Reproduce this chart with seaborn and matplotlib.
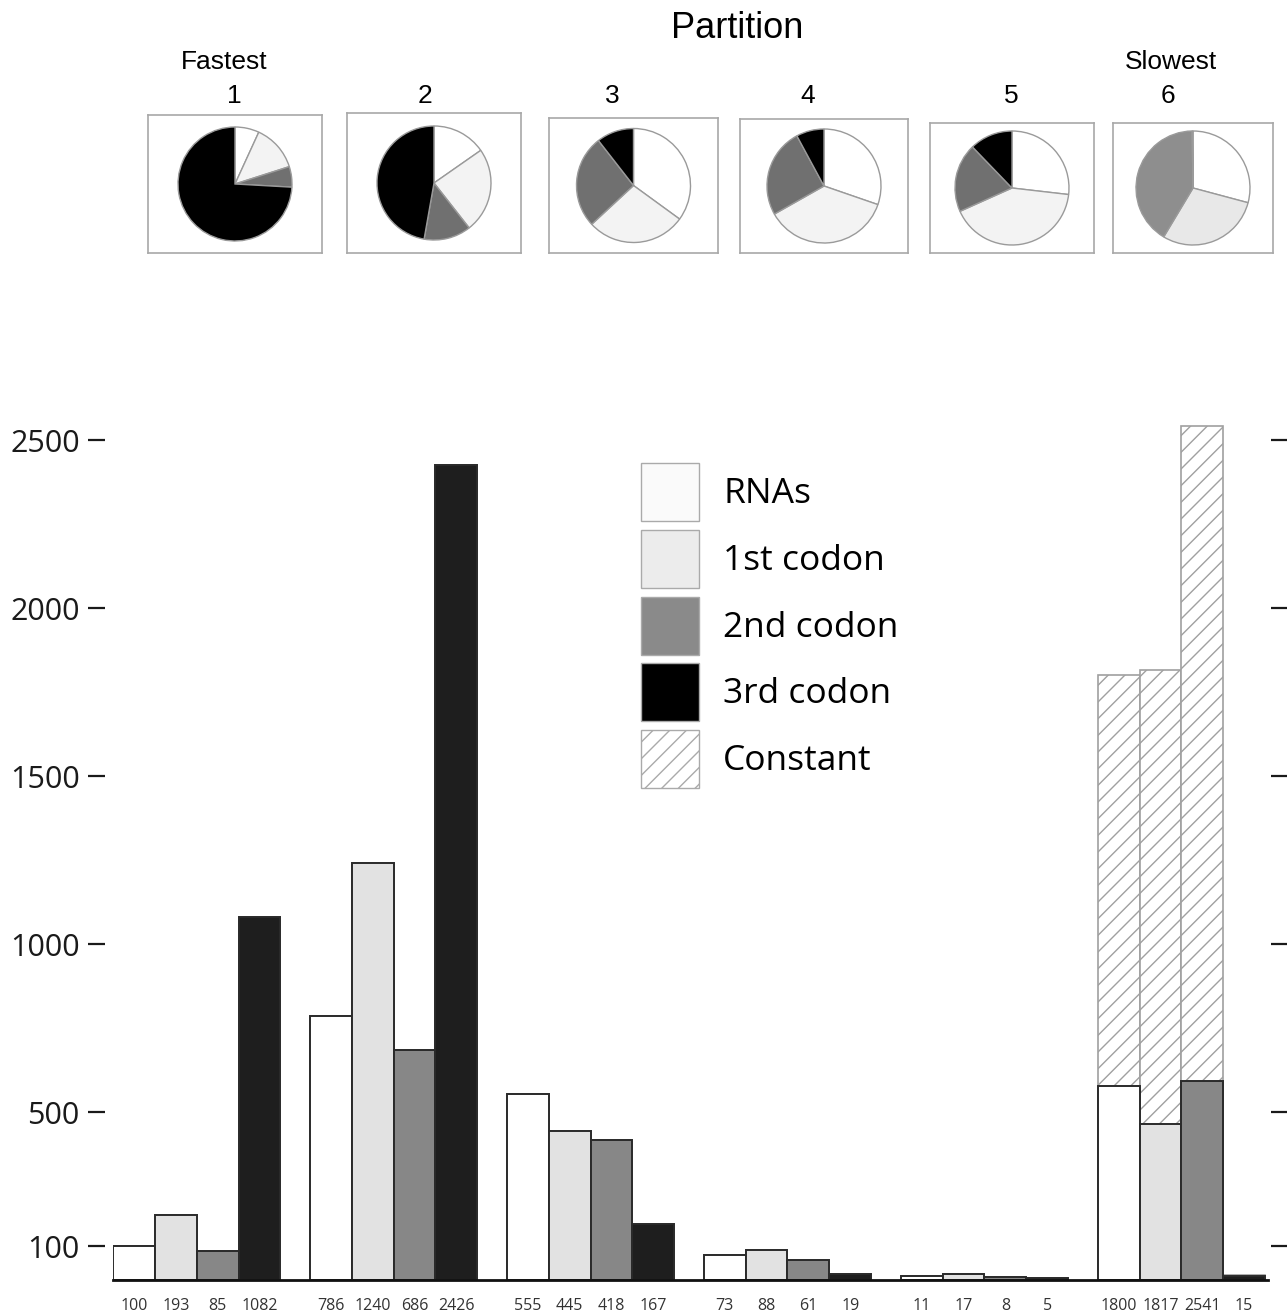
import numpy as np
import pandas as pd
import matplotlib
matplotlib.use('Agg')
import matplotlib.pyplot as plt
from matplotlib.patches import Patch
import seaborn as sns

# data
partitions = ['1', '2', '3', '4', '5', '6']
site_types = ['RNAs', '1st codon', '2nd codon', '3rd codon']
# sites per partition (numbers printed under the bars)
rnas = [100, 786, 555, 73, 11, 1800]
codon1 = [193, 1240, 445, 88, 17, 1817]
codon2 = [85, 686, 418, 61, 8, 2541]
codon3 = [1082, 2426, 167, 19, 5, 15]
# variable part of the slowest partition (rest is constant)
variable6 = [578, 464, 592, 12]

W, H = 1287, 1312

def fig_rect(x0, y0, x1, y1):
    return [x0 / W, 1 - y1 / H, (x1 - x0) / W, (y1 - y0) / H]

sns.set_style('white')
plt.rcParams['font.family'] = ['Open Sans', 'DejaVu Sans']
plt.rcParams['hatch.linewidth'] = 1.0
plt.rcParams['text.color'] = 'black'

# long table
rows = []
for i, p in enumerate(partitions):
    tot = [rnas[i], codon1[i], codon2[i], codon3[i]]
    for j, t in enumerate(site_types):
        var = variable6[j] if p == '6' else tot[j]
        rows.append({'partition': p, 'type': t, 'total': tot[j], 'variable': var})
df = pd.DataFrame(rows)

bar_colors = {'RNAs': '#ffffff', '1st codon': '#e2e2e2',
              '2nd codon': '#878787', '3rd codon': '#1e1e1e'}
pie_colors = ['#ffffff', '#f3f3f3', '#707070', '#000000']
pie_colors_slow = ['#ffffff', '#e8e8e8', '#8e8e8e', '#000000']

fig = plt.figure(figsize=(W / 100, H / 100), dpi=100)
ax = fig.add_axes(fig_rect(113, 420, 1268, 1280))

# constant + variable (hatched) first
sns.barplot(data=df, x='partition', y='total', hue='type', hue_order=site_types,
            palette={t: 'white' for t in site_types}, width=0.85, gap=0,
            edgecolor='#a0a0a0', linewidth=1.2, legend=False, ax=ax)
n_first = len(ax.patches)
for p in ax.patches:
    p.set_hatch('//')
    p.set_edgecolor('#a0a0a0')

# variable sites on top
sns.barplot(data=df, x='partition', y='variable', hue='type', hue_order=site_types,
            palette=bar_colors, width=0.85, gap=0,
            edgecolor='#2a2a2a', linewidth=1.4, legend=False, ax=ax)

bars = [p for p in ax.patches[n_first:] if p.get_height() > 0]
centers = sorted(p.get_x() + p.get_width() / 2 for p in bars)
labels = [str(v) for i in range(len(partitions))
          for v in (rnas[i], codon1[i], codon2[i], codon3[i])]
ax.set_xticks(centers[:len(labels)])
ax.set_xticklabels(labels)

ax.set_xlim(-0.425, 5.44)
ax.set_ylim(0, 2560)
ax.set_yticks([100, 500, 1000, 1500, 2000, 2500])
ax.set_xlabel('')
ax.set_ylabel('')

ax.spines['top'].set_visible(False)
ax.spines['left'].set_position(('outward', 6))
ax.spines['left'].set_visible(False)
ax.spines['right'].set_position(('outward', 2))
ax.spines['right'].set_visible(False)
ax.spines['bottom'].set_linewidth(2)
ax.spines['bottom'].set_color('#111111')

ax.tick_params(axis='y', left=True, right=True, labelright=False,
               length=12.5, width=1.6, direction='out', pad=5.5,
               labelsize=22, color='#1a1a1a', labelcolor='#1a1a1a')
ax.tick_params(axis='x', length=0, pad=13, labelsize=11.5, labelcolor='#333333')

# legend
handles = [Patch(facecolor='#fafafa', edgecolor='#aaaaaa', label='RNAs'),
           Patch(facecolor='#ececec', edgecolor='#aaaaaa', label='1st codon'),
           Patch(facecolor='#8a8a8a', edgecolor='#aaaaaa', label='2nd codon'),
           Patch(facecolor='#000000', edgecolor='#aaaaaa', label='3rd codon'),
           Patch(facecolor='white', edgecolor='#aaaaaa', hatch='//', label='Constant')]
ax.legend(handles=handles, loc='upper left', bbox_to_anchor=(0.457, 0.95),
          frameon=False, fontsize=25.5, handlelength=1.64, handleheight=2.14,
          labelspacing=0.25, handletextpad=0.68, borderpad=0, borderaxespad=0)

# pies per partition
boxes = [(148, 115, 322, 253), (347, 113, 521, 253), (549, 118, 718, 253),
         (740, 119, 908, 253), (930, 123, 1094, 253), (1113, 123, 1273, 253)]
for i, (x0, y0, x1, y1) in enumerate(boxes):
    pax = fig.add_axes(fig_rect(x0, y0, x1, y1))
    vals = [rnas[i], codon1[i], codon2[i], codon3[i]]
    cols = pie_colors_slow if partitions[i] == '6' else pie_colors
    pax.pie(vals, colors=cols, startangle=90, counterclock=False,
            wedgeprops={'edgecolor': '#9a9a9a', 'linewidth': 1.0})
    half = (y1 - y0) / 2 / 57
    pax.set_ylim(-half, half)
    pax.set_aspect('equal', adjustable='datalim')
    pax.set_frame_on(True)
    pax.set_xticks([])
    pax.set_yticks([])
    for s in pax.spines.values():
        s.set_visible(True)
        s.set_color('#a8a8a8')
        s.set_linewidth(1.2)

# header text
top_font = ['Liberation Sans', 'DejaVu Sans']
fig.text(737 / W, 1 - 29 / H, 'Partition', ha='center', va='center',
         fontsize=26, family=top_font)
fig.text(224 / W, 1 - 62 / H, 'Fastest', ha='center', va='center',
         fontsize=19, family=top_font)
fig.text(1171 / W, 1 - 62 / H, 'Slowest', ha='center', va='center',
         fontsize=19, family=top_font)
num_x = [234, 425, 612, 808, 1011, 1168]
for p, x in zip(partitions, num_x):
    fig.text(x / W, 1 - 96 / H, p, ha='center', va='center',
             fontsize=19, family=top_font)

fig.savefig('out.png', dpi=100)
